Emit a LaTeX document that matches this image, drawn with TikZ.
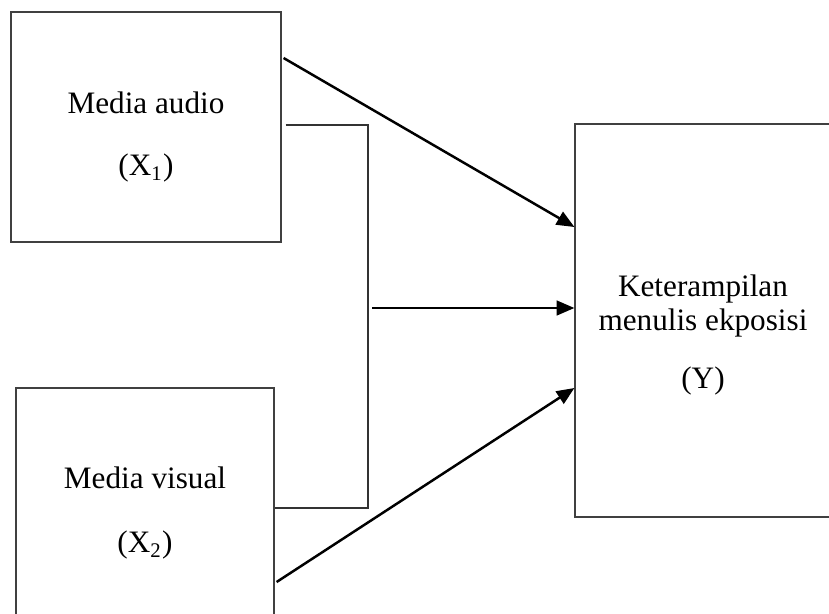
\documentclass[tikz,border=0pt]{standalone}
\usepackage{fontspec}
\setmainfont{Liberation Serif}
\usetikzlibrary{calc,arrows.meta}

\def\px{0.3846pt}

\begin{document}
\begin{tikzpicture}[x=\px,y=-\px,
    font=\fontsize{12pt}{14pt}\selectfont,
    box/.style={draw=black!75,line width=0.45pt,inner sep=0pt},
    conn/.style={line width=0.95pt,-{Triangle[length=6.8pt,width=5.6pt]}},
    joint/.style={draw=black!80,line width=0.45pt}]
  % keep the page the size of the figure
  \useasboundingbox (0,0) rectangle (829,613);

  % the boxes first
  \node [box,minimum width=270*\px,minimum height=230*\px] (audio) at (146,127) {};
  \node [box,minimum width=258*\px,minimum height=252*\px] (visual) at (145,514) {};
  \node [box,minimum width=257*\px,minimum height=393*\px] (skill) at (703.5,320.5) {};

  % their texts
  \node (audio name) at (146,103) {Media audio};
  \node (audio var) at (146,168) {(X\textsubscript{1})};
  \node (visual name) at (145,478) {Media visual};
  \node (visual var) at (145,545) {(X\textsubscript{2})};
  \node (skill name) at (703,289) {Keterampilan};
  \node (skill name2) at (703,323) {menulis ekposisi};
  \node (skill var) at (703,381) {(Y)};

  % joint of X1 and X2
  \coordinate (join) at (368,308);
  \draw [joint] ($ (audio.east |- 0,125) + (4,0) $) -| (join)
    |- (visual.east |- 0,508);

  % the arrows
  \draw [conn] ($ (audio.east |- 0,58) + (2,0) $) -- (skill.west |- 0,227);
  \draw [conn] ($ (join) + (4,0) $) -- (skill.west |- join);
  \draw [conn] ($ (visual.east |- 0,582) + (2,0) $) -- (skill.west |- 0,388);
\end{tikzpicture}
\end{document}
